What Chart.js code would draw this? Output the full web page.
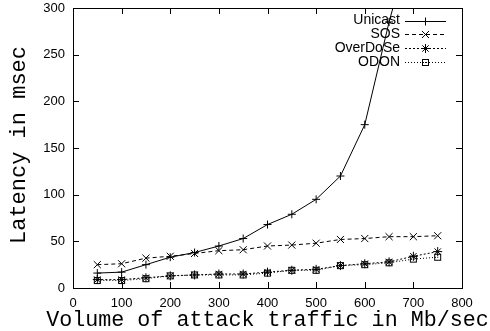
<!DOCTYPE html>
<html>
<head>
<meta charset="utf-8">
<script src="https://cdn.jsdelivr.net/npm/chart.js@4"></script>
<style>
  html, body { margin: 0; padding: 0; background: #fff; }
  #plot { display: block; }
</style>
</head>
<body>
<canvas id="plot" width="490" height="331"></canvas>
<script>
// Attack traffic volume (Mb/sec) and measured latency (msec) per scheme
const attackVolume    = [50, 100, 150, 200, 250, 300, 350, 400, 450, 500, 550, 600, 650, 700, 750];
const unicastLatency  = [16, 17, 25, 33, 38, 45, 53, 68, 79, 95, 120, 175, 285, 380, 470];
const sosLatency      = [25, 26, 32, 34, 37, 40, 41, 45, 46, 48, 52, 53, 55, 55, 56];
const overdoseLatency = [9, 9, 11, 13, 14, 15, 15, 17, 19, 20, 24, 26, 28, 34, 39];
const odonLatency     = [8, 8, 10, 13, 14, 14, 14, 16, 19, 19, 24, 25, 27, 31, 33];

const seriesNames = ['Unicast', 'SOS', 'OverDoSe', 'ODON'];
const xTicks = [0, 100, 200, 300, 400, 500, 600, 700, 800];
const yTicks = [0, 50, 100, 150, 200, 250, 300];
const xTitle = 'Volume of attack traffic in Mb/sec';
const yTitle = 'Latency in msec';

const INK = '#000';
const SANS = "'Liberation Sans', Arial, Helvetica, sans-serif";
const MONO = "'Liberation Mono', 'Courier New', monospace";

// open square with a dot in the middle
function squareDotMarker() {
  const c = document.createElement('canvas');
  c.width = 9; c.height = 9;
  const g = c.getContext('2d');
  g.strokeStyle = INK; g.lineWidth = 1;
  g.strokeRect(1.5, 1.5, 6, 6);
  g.fillStyle = INK;
  g.fillRect(4, 4, 1, 1);
  return c;
}

const toPoints = ys => attackVolume.map((x, i) => ({ x, y: ys[i] }));

function series(label, values, dash, pointStyle, radius) {
  return {
    label,
    data: toPoints(values),
    borderColor: INK,
    backgroundColor: 'rgba(0,0,0,0)',
    borderWidth: 1,
    borderDash: dash,
    tension: 0,
    pointStyle,
    pointRadius: radius,
    pointBorderColor: INK,
    pointBackgroundColor: 'rgba(0,0,0,0)',
    pointBorderWidth: 1,
    fill: false
  };
}

// frame around the plot with inward ticks on all four sides
const framePlugin = {
  id: 'frame',
  beforeDatasetsDraw(chart) {
    const { ctx, chartArea: a, scales } = chart;
    const t = 6;
    ctx.save();
    ctx.strokeStyle = INK;
    ctx.lineWidth = 1;
    ctx.beginPath();
    xTicks.forEach(v => {
      const px = Math.round(scales.x.getPixelForValue(v)) + 0.5;
      ctx.moveTo(px, a.bottom); ctx.lineTo(px, a.bottom - t);
      ctx.moveTo(px, a.top); ctx.lineTo(px, a.top + t);
    });
    yTicks.forEach(v => {
      const py = Math.round(scales.y.getPixelForValue(v)) + 0.5;
      ctx.moveTo(a.left, py); ctx.lineTo(a.left + t, py);
      ctx.moveTo(a.right, py); ctx.lineTo(a.right - t, py);
    });
    ctx.stroke();
    ctx.strokeRect(Math.round(a.left) + 0.5, Math.round(a.top) + 0.5,
                   Math.round(a.right - a.left), Math.round(a.bottom - a.top));
    ctx.restore();
  }
};

// axis titles in a typewriter face, allowed to run wider than the plot
const titlePlugin = {
  id: 'axisTitles',
  afterDraw(chart) {
    const { ctx, chartArea: a } = chart;
    ctx.save();
    ctx.fillStyle = INK;
    ctx.textAlign = 'center';
    ctx.textBaseline = 'middle';
    ctx.font = '21.7px ' + MONO;
    ctx.fillText(xTitle, (a.left + a.right) / 2, chart.height - 10.5);
    ctx.translate(19, (a.top + a.bottom) / 2 - 3);
    ctx.rotate(-Math.PI / 2);
    ctx.font = '22px ' + MONO;
    ctx.fillText(yTitle, 0, 0);
    ctx.restore();
  }
};

// key in the upper right corner: right-aligned names, then line sample with marker
const keyPlugin = {
  id: 'key',
  afterDatasetsDraw(chart) {
    const { ctx, chartArea: a } = chart;
    const lineEnd = a.right - 16;
    const lineStart = lineEnd - 41;
    const textRight = lineStart - 5;
    const firstRow = a.top + 12.5;
    const rowStep = 13.8;
    ctx.save();
    ctx.font = '14px ' + SANS;
    ctx.textAlign = 'right';
    ctx.textBaseline = 'middle';
    chart.data.datasets.forEach((ds, i) => {
      const y = firstRow + i * rowStep;
      ctx.fillStyle = INK;
      ctx.fillText(ds.label, textRight, y);
      ctx.strokeStyle = INK;
      ctx.lineWidth = 1;
      ctx.setLineDash(ds.borderDash);
      ctx.beginPath();
      ctx.moveTo(lineStart, Math.round(y) + 0.5);
      ctx.lineTo(lineEnd, Math.round(y) + 0.5);
      ctx.stroke();
      ctx.setLineDash([]);
      ctx.fillStyle = 'rgba(0,0,0,0)';
      Chart.helpers.drawPoint(ctx, {
        pointStyle: ds.pointStyle,
        radius: ds.pointRadius,
        rotation: 0,
        borderWidth: 1
      }, (lineStart + lineEnd) / 2, Math.round(y) + 0.5);
    });
    ctx.restore();
  }
};

new Chart(document.getElementById('plot'), {
  type: 'line',
  data: {
    datasets: [
      series(seriesNames[0], unicastLatency, [], 'cross', 4),
      series(seriesNames[1], sosLatency, [4, 3], 'crossRot', 5),
      series(seriesNames[2], overdoseLatency, [2, 2], 'star', 4.5),
      series(seriesNames[3], odonLatency, [1, 2], squareDotMarker(), 4)
    ]
  },
  options: {
    responsive: false,
    animation: false,
    events: [],
    devicePixelRatio: 1,
    layout: { padding: { top: 8, right: 28, left: 0, bottom: 0 } },
    plugins: {
      legend: { display: false },
      tooltip: { enabled: false }
    },
    scales: {
      x: {
        type: 'linear',
        min: 0,
        max: 800,
        afterBuildTicks: s => { s.ticks = xTicks.map(v => ({ value: v })); },
        afterFit: s => { s.height = 43; s.paddingLeft = 0; s.paddingRight = 0; },
        grid: { display: false, drawTicks: false },
        border: { display: false },
        ticks: {
          color: INK,
          padding: 8,
          maxRotation: 0,
          font: { family: SANS, size: 13 }
        },
        title: { display: false }
      },
      y: {
        type: 'linear',
        min: 0,
        max: 300,
        afterBuildTicks: s => { s.ticks = yTicks.map(v => ({ value: v })); },
        afterFit: s => { s.width = 73; s.paddingTop = 0; s.paddingBottom = 0; },
        grid: { display: false, drawTicks: false },
        border: { display: false },
        ticks: {
          color: INK,
          padding: 8,
          font: { family: SANS, size: 13 }
        },
        title: { display: false }
      }
    }
  },
  plugins: [framePlugin, keyPlugin, titlePlugin]
});
</script>
</body>
</html>
